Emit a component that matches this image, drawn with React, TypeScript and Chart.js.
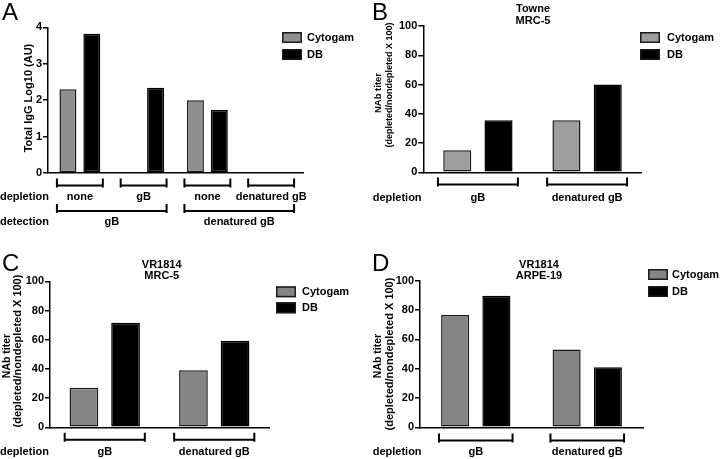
import React, { useEffect, useRef } from "react";
import { Chart, registerables } from "chart.js";

Chart.register(...registerables);

// ---------- data ----------
const seriesNames = ["Cytogam", "DB"];

const categoriesA = ["none", "gB", "none", "denatured gB"];
const detectionA = ["gB", "denatured gB"];
const cytogamA: (number | null)[] = [2.3, null, 2.0, null];
const dbA: (number | null)[] = [3.82, 2.34, 1.73, null];
const yTicksA = [0, 1, 2, 3, 4];

const categoriesNAb = ["gB", "denatured gB"];
const cytogamB = [15, 35.5];
const dbB = [35.5, 60];
const cytogamC = [27.1, 39];
const dbC = [71.6, 59.3];
const cytogamD = [76.6, 53];
const dbD = [89.8, 40.9];
const yTicksNAb = [0, 20, 40, 60, 80, 100];

const titleB = ["Towne", "MRC-5"];
const titleC = ["VR1814", "MRC-5"];
const titleD = ["VR1814", "ARPE-19"];
const yTitleA = ["Total IgG Log10 (AU)"];
const yTitleNAb = ["NAb titer", "(depleted/nondepleted X 100)"];

// ---------- layout ----------
const FONT = '"Liberation Sans", Arial, Helvetica, sans-serif';

type Row = {
  label: string;
  labelX: number;
  labelY: number;
  lineY: number;
  spans: { from: number; to: number; text: string }[];
};

type Panel = {
  left: number;
  top: number;
  width: number;
  height: number;
  area: { l: number; r: number; t: number; b: number };
  categories: string[];
  cytogam: (number | null)[];
  db: (number | null)[];
  yTicks: number[];
  gray: string;
  letter: string;
  letterPos: [number, number];
  title: string[];
  titleX: number;
  titleY: number[];
  yTitle: string[];
  yTitlePos: { x: number; y: number; size: number }[];
  legend: { x: number; y: number; gap: number; textX: number };
  rows: Row[];
  barPct: number;
  catPct: number;
  bracketHalf: number;
};

const panels: Panel[] = [
  {
    left: 0, top: 0, width: 360, height: 229,
    area: { l: 48, r: 303, t: 27.3, b: 173 },
    categories: categoriesA, cytogam: cytogamA, db: dbA, yTicks: yTicksA,
    gray: "#8e8e8e", letter: "A", letterPos: [2, 20],
    title: [], titleX: 0, titleY: [],
    yTitle: yTitleA, yTitlePos: [{ x: 29, y: 98, size: 11 }],
    legend: { x: 282, y: 32, gap: 17, textX: 307 },
    rows: [
      {
        label: "depletion", labelX: 0, labelY: 197, lineY: 185.5,
        spans: categoriesA.map((c, i) => ({ from: i, to: i, text: c })),
      },
      {
        label: "detection", labelX: 0, labelY: 222, lineY: 211,
        spans: [
          { from: 0, to: 1, text: detectionA[0] },
          { from: 2, to: 3, text: detectionA[1] },
        ],
      },
    ],
    barPct: 0.71, catPct: 0.75, bracketHalf: 0.36,
  },
  {
    left: 360, top: 0, width: 360, height: 229,
    area: { l: 63.3, r: 281.7, t: 26, b: 172.3 },
    categories: categoriesNAb, cytogam: cytogamB, db: dbB, yTicks: yTicksNAb,
    gray: "#9e9e9e", letter: "B", letterPos: [12, 20],
    title: titleB, titleX: 173, titleY: [8.5, 20.5],
    yTitle: yTitleNAb,
    yTitlePos: [{ x: 18.5, y: 93, size: 9.5 }, { x: 30, y: 85, size: 9 }],
    legend: { x: 280, y: 32, gap: 17, textX: 307 },
    rows: [
      {
        label: "depletion", labelX: 12.7, labelY: 198, lineY: 184.5,
        spans: categoriesNAb.map((c, i) => ({ from: i, to: i, text: c })),
      },
    ],
    barPct: 0.68, catPct: 0.756, bracketHalf: 0.366,
  },
  {
    left: 0, top: 229, width: 360, height: 230,
    area: { l: 50, r: 269, t: 52.3, b: 198.3 },
    categories: categoriesNAb, cytogam: cytogamC, db: dbC, yTicks: yTicksNAb,
    gray: "#858585", letter: "C", letterPos: [2, 42],
    title: titleC, titleX: 161.7, titleY: [36, 47],
    yTitle: yTitleNAb,
    yTitlePos: [{ x: 7, y: 127, size: 10.5 }, { x: 18.3, y: 122, size: 11 }],
    legend: { x: 276, y: 57.3, gap: 16, textX: 302 },
    rows: [
      {
        label: "depletion", labelX: 0, labelY: 222.7, lineY: 210.7,
        spans: categoriesNAb.map((c, i) => ({ from: i, to: i, text: c })),
      },
    ],
    barPct: 0.69, catPct: 0.76, bracketHalf: 0.366,
  },
  {
    left: 360, top: 229, width: 360, height: 230,
    area: { l: 60, r: 283, t: 51.7, b: 198.3 },
    categories: categoriesNAb, cytogam: cytogamD, db: dbD, yTicks: yTicksNAb,
    gray: "#858585", letter: "D", letterPos: [12, 42],
    title: titleD, titleX: 179, titleY: [36, 47],
    yTitle: yTitleNAb,
    yTitlePos: [{ x: 18.3, y: 127, size: 10.5 }, { x: 30, y: 125, size: 11 }],
    legend: { x: 288, y: 40, gap: 17, textX: 312 },
    rows: [
      {
        label: "depletion", labelX: 12.7, labelY: 223, lineY: 211.5,
        spans: categoriesNAb.map((c, i) => ({ from: i, to: i, text: c })),
      },
    ],
    barPct: 0.68, catPct: 0.74, bracketHalf: 0.33,
  },
];

function PanelChart({ p }: { p: Panel }) {
  const ref = useRef<HTMLCanvasElement | null>(null);

  useEffect(() => {
    const canvas = ref.current;
    if (!canvas) return;

    const overlay = {
      id: "overlay" + p.letter,
      afterDraw(chart: any) {
        const ctx: CanvasRenderingContext2D = chart.ctx;
        const x = chart.scales.x;
        const catW = (x.right - x.left) / p.categories.length;
        ctx.save();
        ctx.fillStyle = "#000";
        ctx.strokeStyle = "#000";

        // brackets and category labels
        for (const row of p.rows) {
          ctx.font = `bold 11px ${FONT}`;
          ctx.textAlign = "left";
          ctx.textBaseline = "middle";
          ctx.fillText(row.label, row.labelX, row.labelY);
          for (const s of row.spans) {
            const x1 = x.getPixelForValue(s.from) - catW * p.bracketHalf;
            const x2 = x.getPixelForValue(s.to) + catW * p.bracketHalf;
            ctx.lineWidth = 2;
            ctx.lineCap = "butt";
            ctx.beginPath();
            ctx.moveTo(x1, row.lineY - 7);
            ctx.lineTo(x1, row.lineY + 2);
            ctx.moveTo(x2, row.lineY - 7);
            ctx.lineTo(x2, row.lineY + 2);
            ctx.moveTo(x1, row.lineY);
            ctx.lineTo(x2, row.lineY);
            ctx.stroke();
            ctx.textAlign = "center";
            ctx.fillText(s.text, (x1 + x2) / 2, row.labelY);
          }
        }

        // legend
        chart.data.datasets.forEach((ds: any, i: number) => {
          const by = p.legend.y + i * p.legend.gap;
          ctx.fillStyle = ds.backgroundColor;
          ctx.fillRect(p.legend.x, by, 20, 11);
          ctx.lineWidth = 1.5;
          ctx.strokeStyle = "#1a1a1a";
          ctx.strokeRect(p.legend.x + 0.75, by + 0.75, 18.5, 9.5);
          ctx.fillStyle = "#000";
          ctx.font = `bold 11px ${FONT}`;
          ctx.textAlign = "left";
          ctx.textBaseline = "middle";
          ctx.fillText(ds.label, p.legend.textX, by + 5.5);
        });

        // panel letter
        ctx.fillStyle = "#000";
        ctx.font = `24px ${FONT}`;
        ctx.textAlign = "left";
        ctx.textBaseline = "alphabetic";
        ctx.fillText(p.letter, p.letterPos[0], p.letterPos[1]);

        // title
        ctx.font = `bold 11px ${FONT}`;
        ctx.textAlign = "center";
        ctx.textBaseline = "middle";
        p.title.forEach((t, i) => ctx.fillText(t, p.titleX, p.titleY[i]));

        // y title
        p.yTitle.forEach((t, i) => {
          const pos = p.yTitlePos[i];
          ctx.save();
          ctx.translate(pos.x, pos.y);
          ctx.rotate(-Math.PI / 2);
          ctx.font = `bold ${pos.size}px ${FONT}`;
          ctx.textAlign = "center";
          ctx.textBaseline = "middle";
          ctx.fillText(t, 0, 0);
          ctx.restore();
        });
        ctx.restore();
      },
    };

    const chart = new Chart(canvas, {
      type: "bar",
      data: {
        labels: p.categories,
        datasets: [
          {
            label: seriesNames[0],
            data: p.cytogam,
            backgroundColor: p.gray,
            borderColor: "#1a1a1a",
            borderWidth: 1.5,
            borderSkipped: false,
            barPercentage: p.barPct,
            categoryPercentage: p.catPct,
          },
          {
            label: seriesNames[1],
            data: p.db,
            backgroundColor: "#000000",
            borderColor: "#000000",
            borderWidth: 1.5,
            borderSkipped: false,
            barPercentage: p.barPct,
            categoryPercentage: p.catPct,
          },
        ],
      } as any,
      options: {
        responsive: false,
        animation: false,
        devicePixelRatio: 1,
        layout: {
          padding: {
            left: 0,
            top: p.area.t,
            right: p.width - p.area.r,
            bottom: p.height - p.area.b,
          },
        },
        plugins: {
          legend: { display: false },
          tooltip: { enabled: false },
          title: { display: false },
        },
        scales: {
          x: {
            type: "category",
            offset: true,
            ticks: { display: false },
            grid: { display: false },
            border: { display: true, color: "#000", width: 1.5 },
            afterFit: (s: any) => {
              s.height = 0;
            },
          },
          y: {
            min: p.yTicks[0],
            max: p.yTicks[p.yTicks.length - 1],
            ticks: {
              stepSize: p.yTicks[1] - p.yTicks[0],
              color: "#000",
              padding: 1,
              font: { family: FONT, size: 11, weight: "bold" },
            },
            grid: {
              display: true,
              drawOnChartArea: false,
              drawTicks: true,
              tickLength: 5,
              color: "#000",
              lineWidth: 1.5,
            },
            border: { display: true, color: "#000", width: 1.5 },
            afterFit: (s: any) => {
              s.width = p.area.l;
            },
          },
        },
      } as any,
      plugins: [overlay],
    });

    return () => chart.destroy();
  }, [p]);

  return (
    <canvas
      ref={ref}
      width={p.width}
      height={p.height}
      style={{
        position: "absolute",
        left: p.left,
        top: p.top,
        width: p.width,
        height: p.height,
      }}
    />
  );
}

export default function App() {
  return (
    <div
      style={{
        position: "absolute",
        left: 0,
        top: 0,
        width: 720,
        height: 459,
        background: "#fff",
        overflow: "hidden",
      }}
    >
      {panels.map((p) => (
        <PanelChart key={p.letter} p={p} />
      ))}
    </div>
  );
}
